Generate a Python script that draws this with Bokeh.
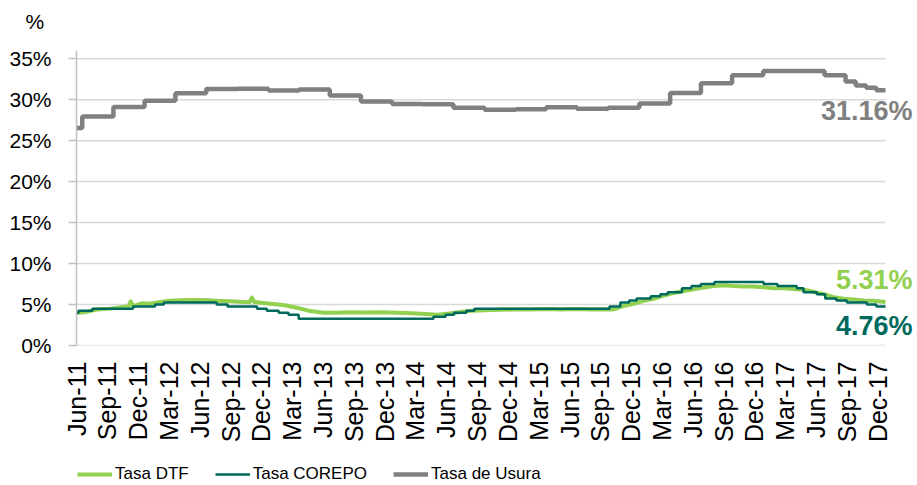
import math
import pandas as pd
from bokeh.plotting import figure
from bokeh.layouts import column
from bokeh.models import (Legend, LegendItem, Label, FixedTicker, DatetimeTickFormatter,
                          Range1d, PrintfTickFormatter, ColumnDataSource)
from bokeh.embed import file_html
from bokeh.resources import INLINE

# ---------------- data ----------------
dtf_dates = ["2011-06-14", "2011-07-14", "2011-08-13", "2011-09-21", "2011-10-30", "2011-11-14",
             "2011-11-21", "2011-11-28", "2011-12-24", "2012-01-17", "2012-02-16", "2012-03-16",
             "2012-05-05", "2012-06-23", "2012-08-01", "2012-09-10", "2012-10-19", "2012-11-06",
             "2012-11-13", "2012-11-20", "2013-01-06", "2013-02-14", "2013-03-26", "2013-05-04",
             "2013-06-13", "2013-07-22", "2013-08-30", "2013-10-15", "2013-12-01", "2014-01-15",
             "2014-03-01", "2014-04-10", "2014-05-15", "2014-06-20", "2014-07-21", "2014-08-25",
             "2014-10-01", "2014-11-15", "2015-01-01", "2015-02-15", "2015-04-01", "2015-05-15",
             "2015-07-01", "2015-08-15", "2015-09-08", "2015-10-17", "2015-11-15", "2015-12-15",
             "2016-01-14", "2016-02-12", "2016-03-13", "2016-04-11", "2016-05-11", "2016-06-10",
             "2016-07-09", "2016-08-08", "2016-09-06", "2016-10-06", "2016-11-04", "2016-12-04",
             "2017-01-02", "2017-02-01", "2017-03-02", "2017-04-01", "2017-04-30", "2017-05-30",
             "2017-06-29", "2017-07-28", "2017-08-27", "2017-09-25", "2017-10-25", "2017-11-23",
             "2017-12-28"]
dtf_values = [3.95, 4.10, 4.40, 4.50, 4.70, 4.75,
              5.40, 4.80, 5.15, 5.10, 5.30, 5.45,
              5.55, 5.55, 5.45, 5.40, 5.30, 5.30,
              5.85, 5.30, 5.10, 4.95, 4.60, 4.20,
              4.00, 4.00, 4.05, 4.02, 4.05, 4.00,
              3.95, 3.85, 3.75, 3.90, 4.10, 4.25,
              4.30, 4.35, 4.40, 4.40, 4.45, 4.40,
              4.45, 4.40, 4.40, 4.40, 4.80, 5.10,
              5.45, 5.70, 6.10, 6.40, 6.65, 6.85,
              7.07, 7.27, 7.35, 7.25, 7.20, 7.20,
              7.10, 7.00, 7.00, 6.90, 6.80, 6.55,
              6.25, 5.90, 5.70, 5.60, 5.50, 5.45,
              5.31]

corepo_dates = ["2011-06-14", "2011-06-20", "2011-07-31", "2011-11-28", "2012-02-01", "2012-02-27",
                "2012-08-01", "2012-09-02", "2012-11-28", "2012-12-27", "2013-01-31", "2013-03-01",
                "2013-03-31", "2014-05-03", "2014-06-08", "2014-07-03", "2014-08-08", "2014-09-01",
                "2015-10-05", "2015-11-06", "2015-12-02", "2015-12-24", "2016-02-04", "2016-03-03",
                "2016-03-25", "2016-05-06", "2016-06-03", "2016-07-01", "2016-08-10", "2017-01-02",
                "2017-02-12", "2017-04-10", "2017-04-30", "2017-06-08", "2017-07-03", "2017-08-05",
                "2017-09-05", "2017-11-03", "2017-12-01", "2017-12-28"]
corepo_values = [4.00, 4.25, 4.50, 4.75, 5.00, 5.25,
                 5.00, 4.75, 4.50, 4.25, 4.00, 3.75,
                 3.25, 3.50, 3.75, 4.00, 4.25, 4.50,
                 4.75, 5.25, 5.50, 5.75, 6.00, 6.25,
                 6.50, 7.00, 7.25, 7.50, 7.75, 7.50,
                 7.25, 7.00, 6.50, 6.25, 5.75, 5.50,
                 5.25, 5.00, 4.76, 4.76]

usura_dates = ["2011-06-14", "2011-07-01", "2011-10-01", "2012-01-01", "2012-04-01", "2012-07-01",
               "2012-10-01", "2013-01-01", "2013-04-01", "2013-07-01", "2013-10-01", "2014-01-01",
               "2014-04-01", "2014-07-01", "2014-10-01", "2015-01-01", "2015-04-01", "2015-07-01",
               "2015-10-01", "2016-01-01", "2016-04-01", "2016-07-01", "2016-10-01", "2017-01-01",
               "2017-04-01", "2017-07-01", "2017-09-01", "2017-10-01", "2017-11-01", "2017-12-01",
               "2017-12-28"]
usura_values = [26.54, 27.95, 29.09, 29.88, 30.78, 31.29,
                31.34, 31.13, 31.25, 30.51, 29.78, 29.48,
                29.45, 29.00, 28.76, 28.82, 29.06, 28.89,
                29.00, 29.52, 30.81, 32.01, 32.99, 33.51,
                33.50, 32.97, 32.22, 31.73, 31.44, 31.16,
                31.16]

series_names = ["Tasa DTF", "Tasa COREPO", "Tasa de Usura"]
end_labels = ["5.31%", "4.76%", "31.16%"]
y_ticks = [0, 5, 10, 15, 20, 25, 30, 35]
first_tick = "2011-06-14"
tick_step_days = 91
n_ticks = 27

# ---------------- styling ----------------
GREEN = "#92D050"
TEAL = "#00695E"
GRAY = "#808080"
GRID = "#D9D9D9"
AXIS = "#BFBFBF"
FONT = "Liberation Sans"

start = pd.Timestamp(dtf_dates[0])
data_end = pd.Timestamp(dtf_dates[-1])
# frame continues a little to the right of the data so that the end labels fit
range_end = data_end + (data_end - start) * (32.0 / 809.0)

p = figure(width=917, height=452, x_axis_type="datetime", output_backend="svg",
           toolbar_location=None, x_range=Range1d(start, range_end), y_range=Range1d(0, 36),
           min_border_left=76, min_border_right=0, min_border_top=50, min_border_bottom=107)
p.outline_line_color = None
p.background_fill_color = "white"
p.border_fill_color = "white"

p.title.text = "%"
p.title.align = "left"
p.title.vertical_align = "top"
p.title.offset = -51
p.title.standoff = 16
p.title.padding = dict(left=0, right=0, top=0, bottom=8)
p.title.text_font = FONT
p.title.text_font_size = "21px"
p.title.text_font_style = "normal"
p.title.text_color = "#000000"

p.grid.visible = False

p.yaxis.ticker = FixedTicker(ticks=y_ticks)
p.yaxis.formatter = PrintfTickFormatter(format="%d%%")
p.yaxis.major_tick_out = 8
p.yaxis.major_tick_in = 0
p.yaxis.minor_tick_line_color = None
p.yaxis.major_tick_line_color = AXIS
p.yaxis.major_tick_line_width = 1.5
p.yaxis.axis_line_color = AXIS
p.yaxis.axis_line_width = 1.5
p.yaxis.major_label_standoff = 17
p.yaxis.major_label_text_font = FONT
p.yaxis.major_label_text_font_size = "21px"
p.yaxis.major_label_text_color = "#000000"

tick_ts = [pd.Timestamp(first_tick) + pd.Timedelta(days=tick_step_days * k) for k in range(n_ticks)]
p.xaxis.ticker = FixedTicker(ticks=[t.value // 10**6 for t in tick_ts])
fmt = "%b-%y"
p.xaxis.formatter = DatetimeTickFormatter(microseconds=fmt, milliseconds=fmt, seconds=fmt,
                                          minsec=fmt, minutes=fmt, hourmin=fmt, hours=fmt,
                                          days=fmt, months=fmt, years=fmt)
p.xaxis.major_tick_out = 0
p.xaxis.major_tick_in = 0
p.xaxis.minor_tick_line_color = None
p.xaxis.axis_line_color = None
p.xaxis.major_label_orientation = math.pi / 2
p.xaxis.major_label_standoff = 16
p.xaxis.major_label_text_font = FONT
p.xaxis.major_label_text_font_size = "25px"
p.xaxis.major_label_text_color = "#000000"

# horizontal gridlines, only across the span of the data
p.segment(x0=[start] * len(y_ticks), x1=[data_end] * len(y_ticks), y0=y_ticks, y1=y_ticks,
          line_color=GRID, line_width=1.5)

src_u = ColumnDataSource(dict(x=pd.to_datetime(usura_dates), y=usura_values))
src_d = ColumnDataSource(dict(x=pd.to_datetime(dtf_dates), y=dtf_values))
src_c = ColumnDataSource(dict(x=pd.to_datetime(corepo_dates), y=corepo_values))

style_u = dict(line_color=GRAY, line_width=4.5)
style_d = dict(line_color=GREEN, line_width=4, line_join="round")
style_c = dict(line_color=TEAL, line_width=2.5)

p.step(x="x", y="y", source=src_u, mode="after", **style_u)
p.line(x="x", y="y", source=src_d, **style_d)
p.step(x="x", y="y", source=src_c, mode="after", **style_c)

lab_kw = dict(x_units="screen", y_units="data", text_font=FONT, text_font_size="27px",
              text_font_style="bold", text_align="right", text_baseline="middle")
lab_x = 836
p.add_layout(Label(x=lab_x, y=7.97, text=end_labels[0], text_color=GREEN, **lab_kw))
p.add_layout(Label(x=lab_x, y=2.36, text=end_labels[1], text_color=TEAL, **lab_kw))
p.add_layout(Label(x=lab_x, y=28.6, text=end_labels[2], text_color=GRAY, **lab_kw))

# ---------------- legend strip ----------------
leg = figure(width=917, height=33, output_backend="svg", toolbar_location=None,
             x_axis_location=None, y_axis_location=None, min_border=0,
             x_range=Range1d(0, 1), y_range=Range1d(0, 1))
leg.outline_line_color = None
leg.grid.visible = False
leg.title.text = ""
l_d = leg.line(x="x", y="y", source=src_d, **style_d)
l_c = leg.step(x="x", y="y", source=src_c, mode="after", **style_c)
l_u = leg.step(x="x", y="y", source=src_u, mode="after", **style_u)
legend = Legend(items=[LegendItem(label=series_names[0], renderers=[l_d]),
                       LegendItem(label=series_names[1], renderers=[l_c]),
                       LegendItem(label=series_names[2], renderers=[l_u])],
                location=(1, 1), orientation="horizontal",
                label_text_font=FONT, label_text_font_size="17px", label_text_color="#000000",
                glyph_width=35, glyph_height=20, label_standoff=3, spacing=26,
                padding=0, margin=0, border_line_color=None, background_fill_alpha=0)
leg.add_layout(legend)

open("out.html", "w").write(file_html(column(p, leg), INLINE))
